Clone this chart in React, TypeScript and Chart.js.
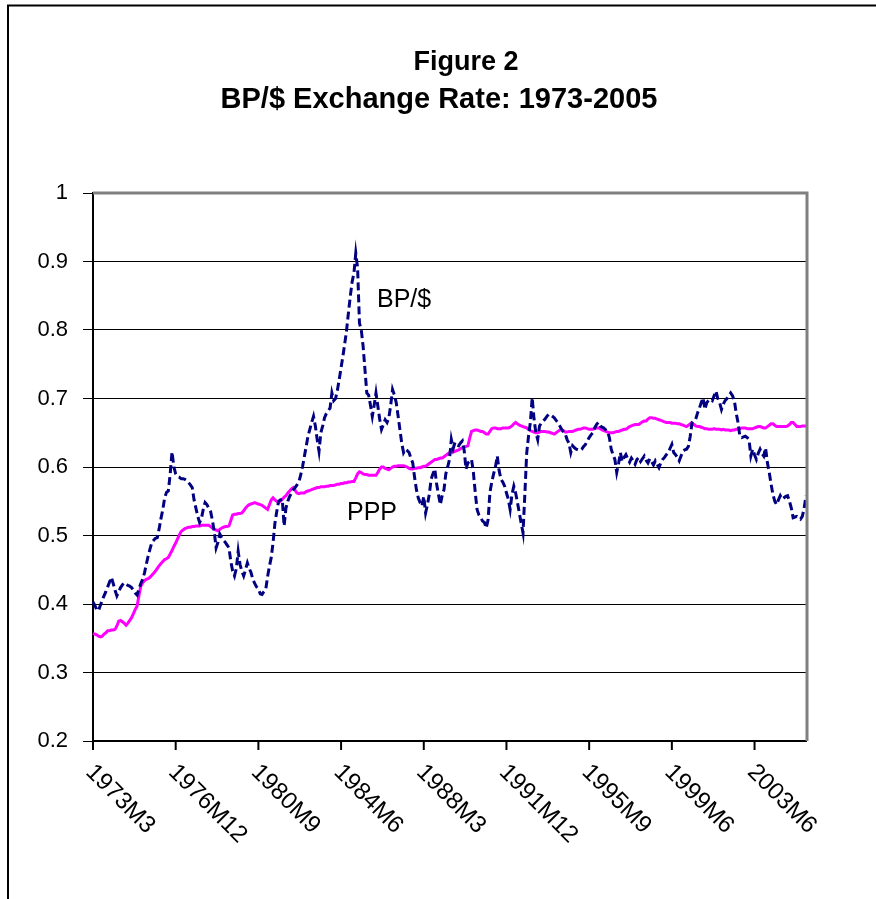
import React, { useEffect, useRef } from "react";
import { Chart, registerables } from "chart.js";

Chart.register(...registerables);

const W = 876;
const H = 899;

const TITLE_LINE_1 = "Figure 2";
const TITLE_LINE_2 = "BP/$ Exchange Rate: 1973-2005";
const SERIES_NAMES = ["BP/$", "PPP"];

// x tick labels, one every TICK_STEP monthly categories
const TICK_LABELS = ["1973M3", "1976M12", "1980M9", "1984M6", "1988M3", "1991M12", "1995M9", "1999M6", "2003M6"];
const TICK_STEP = 45;

const Y_TICKS = [0.2, 0.3, 0.4, 0.5, 0.6, 0.7, 0.8, 0.9, 1];

// BP per US$ (monthly)
const BP_USD = [
  0.403, 0.398, 0.392, 0.390, 0.398, 0.405, 0.412, 0.418, 0.425, 0.432,
  0.439, 0.430, 0.420, 0.412, 0.418, 0.424, 0.428, 0.431, 0.429, 0.427,
  0.426, 0.424, 0.420, 0.416, 0.413, 0.422, 0.430, 0.436, 0.445, 0.458,
  0.470, 0.480, 0.490, 0.493, 0.496, 0.497, 0.510, 0.525, 0.538, 0.555,
  0.563, 0.565, 0.590, 0.622, 0.600, 0.590, 0.586, 0.585, 0.583, 0.583,
  0.582, 0.580, 0.577, 0.574, 0.570, 0.552, 0.540, 0.528, 0.519, 0.525,
  0.538, 0.548, 0.545, 0.540, 0.535, 0.522, 0.505, 0.482, 0.490, 0.502,
  0.497, 0.493, 0.490, 0.486, 0.482, 0.462, 0.448, 0.441, 0.452, 0.477,
  0.458, 0.448, 0.441, 0.450, 0.460, 0.452, 0.446, 0.436, 0.430, 0.425,
  0.422, 0.415, 0.414, 0.418, 0.421, 0.440, 0.455, 0.468, 0.490, 0.518,
  0.535, 0.550, 0.552, 0.553, 0.514, 0.540, 0.550, 0.557, 0.562, 0.567,
  0.570, 0.574, 0.578, 0.588, 0.600, 0.615, 0.630, 0.645, 0.655, 0.665,
  0.674, 0.660, 0.640, 0.623, 0.650, 0.660, 0.672, 0.678, 0.682, 0.686,
  0.708, 0.697, 0.700, 0.712, 0.728, 0.745, 0.762, 0.780, 0.800, 0.825,
  0.849, 0.870, 0.883, 0.912, 0.890, 0.810, 0.800, 0.776, 0.742, 0.708,
  0.705, 0.690, 0.674, 0.690, 0.708, 0.689, 0.670, 0.655, 0.662, 0.669,
  0.665, 0.672, 0.690, 0.713, 0.705, 0.694, 0.675, 0.655, 0.635, 0.621,
  0.626, 0.624, 0.621, 0.613, 0.606, 0.585, 0.567, 0.555, 0.548, 0.543,
  0.557, 0.533, 0.545, 0.560, 0.582, 0.590, 0.597, 0.575, 0.560, 0.545,
  0.558, 0.567, 0.590, 0.600, 0.611, 0.640, 0.627, 0.636, 0.632, 0.631,
  0.635, 0.638, 0.624, 0.597, 0.606, 0.608, 0.611, 0.592, 0.563, 0.538,
  0.530, 0.526, 0.521, 0.519, 0.511, 0.523, 0.563, 0.578, 0.590, 0.600,
  0.616, 0.595, 0.582, 0.578, 0.572, 0.562, 0.553, 0.538, 0.560, 0.572,
  0.562, 0.548, 0.533, 0.518, 0.504, 0.560, 0.620, 0.645, 0.665, 0.701,
  0.670, 0.650, 0.640, 0.660, 0.664, 0.667, 0.670, 0.674, 0.677, 0.676,
  0.674, 0.672, 0.668, 0.665, 0.660, 0.655, 0.651, 0.648, 0.640, 0.635,
  0.621, 0.631, 0.628, 0.626, 0.625, 0.624, 0.626, 0.630, 0.633, 0.638,
  0.643, 0.647, 0.650, 0.657, 0.662, 0.665, 0.660, 0.658, 0.657, 0.654,
  0.652, 0.643, 0.626, 0.618, 0.611, 0.592, 0.605, 0.621, 0.608, 0.614,
  0.618, 0.612, 0.607, 0.613, 0.609, 0.604, 0.611, 0.614, 0.608, 0.612,
  0.616, 0.610, 0.606, 0.612, 0.608, 0.603, 0.609, 0.604, 0.599, 0.606,
  0.611, 0.614, 0.618, 0.621, 0.627, 0.633, 0.621, 0.618, 0.614, 0.609,
  0.616, 0.623, 0.625, 0.626, 0.630, 0.645, 0.665, 0.668, 0.670, 0.679,
  0.686, 0.694, 0.701, 0.684, 0.694, 0.697, 0.699, 0.697, 0.704, 0.711,
  0.700, 0.694, 0.684, 0.692, 0.697, 0.700, 0.704, 0.708, 0.704, 0.697,
  0.679, 0.665, 0.645, 0.643, 0.644, 0.645, 0.643, 0.640, 0.616, 0.626,
  0.618, 0.611, 0.620, 0.626, 0.620, 0.616, 0.628, 0.606, 0.592, 0.575,
  0.560, 0.550, 0.545, 0.552, 0.558, 0.553, 0.555, 0.557, 0.558, 0.550,
  0.540, 0.526, 0.527, 0.528, 0.526, 0.524, 0.528, 0.540, 0.558,
];

// PPP rate (monthly)
const PPP = [
  0.357, 0.356, 0.355, 0.353, 0.352, 0.353, 0.356, 0.358, 0.361, 0.361,
  0.362, 0.362, 0.363, 0.368, 0.375, 0.376, 0.374, 0.372, 0.369, 0.372,
  0.376, 0.380, 0.386, 0.392, 0.397, 0.412, 0.426, 0.431, 0.434, 0.436,
  0.437, 0.439, 0.442, 0.445, 0.448, 0.452, 0.456, 0.459, 0.462, 0.465,
  0.466, 0.468, 0.473, 0.478, 0.484, 0.489, 0.495, 0.501, 0.506, 0.508,
  0.510, 0.511, 0.512, 0.512, 0.513, 0.513, 0.514, 0.514, 0.514, 0.515,
  0.515, 0.515, 0.515, 0.515, 0.513, 0.511, 0.509, 0.508, 0.507, 0.509,
  0.511, 0.512, 0.513, 0.513, 0.514, 0.522, 0.530, 0.531, 0.531, 0.532,
  0.532, 0.533, 0.536, 0.540, 0.543, 0.545, 0.546, 0.547, 0.548, 0.547,
  0.546, 0.545, 0.544, 0.542, 0.540, 0.538, 0.545, 0.552, 0.555, 0.552,
  0.550, 0.548, 0.550, 0.553, 0.556, 0.558, 0.562, 0.565, 0.568, 0.570,
  0.566, 0.562, 0.561, 0.562, 0.562, 0.562, 0.564, 0.565, 0.566, 0.567,
  0.568, 0.569, 0.570, 0.570, 0.571, 0.571, 0.571, 0.572, 0.572, 0.573,
  0.573, 0.573, 0.574, 0.575, 0.575, 0.576, 0.576, 0.577, 0.577, 0.578,
  0.578, 0.579, 0.579, 0.584, 0.590, 0.593, 0.592, 0.590, 0.589, 0.589,
  0.588, 0.588, 0.588, 0.588, 0.588, 0.592, 0.597, 0.600, 0.600, 0.598,
  0.597, 0.596, 0.598, 0.600, 0.601, 0.601, 0.602, 0.602, 0.602, 0.602,
  0.601, 0.600, 0.598, 0.597, 0.597, 0.598, 0.598, 0.599, 0.599, 0.600,
  0.601, 0.601, 0.603, 0.605, 0.607, 0.609, 0.611, 0.611, 0.612, 0.613,
  0.613, 0.615, 0.617, 0.619, 0.621, 0.622, 0.622, 0.623, 0.624, 0.625,
  0.627, 0.628, 0.629, 0.630, 0.631, 0.642, 0.652, 0.653, 0.654, 0.654,
  0.653, 0.652, 0.652, 0.650, 0.648, 0.648, 0.652, 0.656, 0.657, 0.657,
  0.656, 0.656, 0.656, 0.657, 0.657, 0.657, 0.657, 0.658, 0.660, 0.663,
  0.665, 0.663, 0.661, 0.660, 0.659, 0.658, 0.657, 0.655, 0.653, 0.652,
  0.651, 0.650, 0.650, 0.651, 0.652, 0.652, 0.652, 0.651, 0.651, 0.650,
  0.649, 0.648, 0.650, 0.652, 0.654, 0.655, 0.653, 0.651, 0.651, 0.652,
  0.652, 0.652, 0.653, 0.654, 0.655, 0.655, 0.656, 0.657, 0.657, 0.656,
  0.655, 0.655, 0.655, 0.656, 0.657, 0.657, 0.656, 0.654, 0.653, 0.652,
  0.651, 0.650, 0.650, 0.650, 0.651, 0.652, 0.652, 0.653, 0.654, 0.655,
  0.655, 0.657, 0.659, 0.660, 0.661, 0.662, 0.662, 0.662, 0.664, 0.666,
  0.667, 0.667, 0.670, 0.672, 0.672, 0.671, 0.671, 0.670, 0.669, 0.668,
  0.667, 0.666, 0.665, 0.665, 0.665, 0.664, 0.664, 0.664, 0.663, 0.663,
  0.662, 0.661, 0.660, 0.659, 0.661, 0.663, 0.664, 0.662, 0.660, 0.659,
  0.659, 0.658, 0.657, 0.656, 0.656, 0.655, 0.655, 0.655, 0.656, 0.655,
  0.655, 0.655, 0.654, 0.655, 0.654, 0.654, 0.654, 0.653, 0.654, 0.654,
  0.655, 0.655, 0.656, 0.657, 0.657, 0.657, 0.656, 0.656, 0.656, 0.656,
  0.657, 0.658, 0.659, 0.659, 0.658, 0.657, 0.657, 0.659, 0.661, 0.663,
  0.663, 0.661, 0.659, 0.659, 0.659, 0.659, 0.659, 0.659, 0.660, 0.662,
  0.665, 0.665, 0.662, 0.659, 0.659, 0.659, 0.660, 0.660, 0.660,
];

const CATEGORIES = BP_USD.map((_, i) => String(i));

const FONT = '"Liberation Sans", Arial, Helvetica, sans-serif';

const decorPlugin = {
  id: "decor",
  beforeDraw(chart: any) {
    const ctx = chart.ctx;
    ctx.save();
    ctx.fillStyle = "#ffffff";
    ctx.fillRect(0, 0, W, H);
    // outer chart frame (left and top visible)
    ctx.strokeStyle = "#000000";
    ctx.lineWidth = 2;
    ctx.beginPath();
    ctx.moveTo(8, H);
    ctx.lineTo(8, 5.5);
    ctx.lineTo(W, 5.5);
    ctx.stroke();
    // title
    ctx.fillStyle = "#000000";
    ctx.textAlign = "center";
    ctx.textBaseline = "alphabetic";
    ctx.font = `bold 27px ${FONT}`;
    ctx.fillText(TITLE_LINE_1, 466, 70);
    ctx.font = `bold 29px ${FONT}`;
    ctx.fillText(TITLE_LINE_2, 439, 108);
    ctx.restore();
  },
  afterDatasetsDraw(chart: any) {
    const ctx = chart.ctx;
    const a = chart.chartArea;
    const x = chart.scales.x;
    ctx.save();
    // plot-area border (top and right)
    ctx.strokeStyle = "#808080";
    ctx.lineWidth = 3;
    ctx.beginPath();
    ctx.moveTo(a.left, a.top);
    ctx.lineTo(a.right + 1, a.top);
    ctx.lineTo(a.right + 1, a.bottom);
    ctx.stroke();
    // x tick marks and rotated labels
    ctx.strokeStyle = "#000000";
    ctx.fillStyle = "#000000";
    ctx.lineWidth = 2;
    TICK_LABELS.forEach((lab, i) => {
      const px = x.getPixelForValue(i * TICK_STEP);
      ctx.beginPath();
      ctx.moveTo(px, a.bottom);
      ctx.lineTo(px, a.bottom + 9);
      ctx.stroke();
      ctx.save();
      ctx.translate(px + 5, a.bottom + 19);
      ctx.rotate(Math.PI / 4);
      ctx.font = `24px ${FONT}`;
      ctx.textAlign = "left";
      ctx.textBaseline = "top";
      ctx.fillText(lab, 0, 0);
      ctx.restore();
    });
    // series labels
    ctx.font = `25px ${FONT}`;
    ctx.textAlign = "left";
    ctx.textBaseline = "alphabetic";
    ctx.fillText(SERIES_NAMES[0], 377, 307);
    ctx.fillText(SERIES_NAMES[1], 347, 520);
    ctx.restore();
  },
};

export default function App() {
  const ref = useRef<HTMLCanvasElement | null>(null);

  useEffect(() => {
    if (!ref.current) return;
    const chart = new Chart(ref.current, {
      type: "line",
      data: {
        labels: CATEGORIES,
        datasets: [
          {
            label: SERIES_NAMES[0],
            data: BP_USD,
            borderColor: "#000080",
            borderWidth: 3,
            borderDash: [8, 4],
            pointRadius: 0,
            tension: 0,
            fill: false,
          },
          {
            label: SERIES_NAMES[1],
            data: PPP,
            borderColor: "#FF00FF",
            borderWidth: 3,
            pointRadius: 0,
            tension: 0,
            fill: false,
          },
        ],
      },
      options: {
        animation: false,
        responsive: false,
        devicePixelRatio: 1,
        layout: { padding: { left: 0, right: 70, top: 193, bottom: 0 } },
        plugins: {
          legend: { display: false },
          tooltip: { enabled: false },
          title: { display: false },
        },
        scales: {
          x: {
            type: "category",
            offset: false,
            ticks: { display: false },
            grid: { display: false },
            border: { display: true, color: "#000000", width: 2 },
            afterFit: (s: any) => {
              s.height = 158;
            },
          },
          y: {
            min: 0.2,
            max: 1,
            afterBuildTicks: (s: any) => {
              s.ticks = Y_TICKS.map((v) => ({ value: v }));
            },
            afterFit: (s: any) => {
              s.width = 93;
            },
            ticks: {
              color: "#000000",
              font: { family: FONT, size: 22 },
              padding: 15,
              callback: (v: any) => String(Number(Number(v).toFixed(1))),
            },
            grid: {
              color: (c: any) => (c.tick && c.tick.value >= 1 ? "rgba(0,0,0,0)" : "#000000"),
              lineWidth: 1,
              drawTicks: true,
              tickLength: 10,
              tickColor: "#000000",
              tickWidth: 1,
            },
            border: { display: true, color: "#000000", width: 2 },
          },
        },
      },
      plugins: [decorPlugin],
    });
    return () => chart.destroy();
  }, []);

  return (
    <div style={{ position: "absolute", left: 0, top: 0, width: W, height: H, background: "#fff" }}>
      <canvas ref={ref} width={W} height={H} style={{ display: "block" }} />
    </div>
  );
}
